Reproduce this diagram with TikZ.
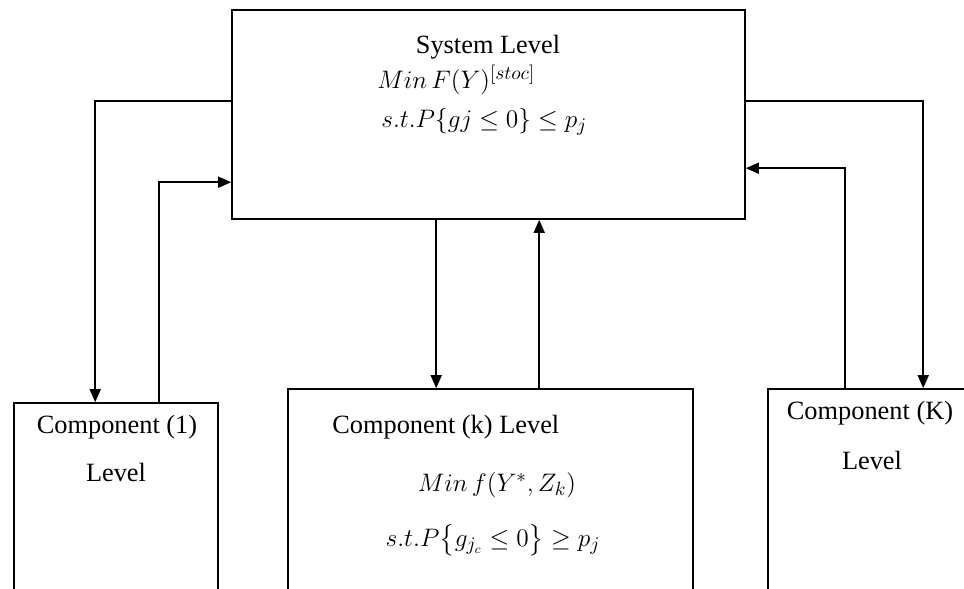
\documentclass[tikz,border=0pt]{standalone}
\usepackage{amsmath}
\usepackage{amssymb}
\usepackage{fontspec}
\setmainfont{Liberation Serif}
\usepackage{tikz}
\usetikzlibrary{arrows.meta,positioning,calc}

\begin{document}
\begin{tikzpicture}[
    box/.style={rectangle, draw, line width=0.9pt, fill=white, inner sep=0pt},
    label/.style={inner sep=0pt, font=\fontsize{15}{18}\selectfont},
    arrow/.style={-{Triangle[length=2.6mm,width=2.2mm]}, line width=0.9pt}
]
\clip (0,0) rectangle (19.28,11.78);
\fill[white] (0,0) rectangle (19.28,11.78);

\node[box, minimum width=10.26cm, minimum height=4.18cm] (sys)    at (9.77,9.49) {};
\node[box, minimum width=4.08cm,  minimum height=4cm]    (compone) at (2.32,1.72) {};
\node[box, minimum width=8.1cm,   minimum height=4.2cm]  (compk)  at (9.81,1.9)  {};
\node[box, minimum width=4.24cm,  minimum height=4.2cm]  (compK)  at (17.48,1.9) {};

\node[label] (systitle) at (9.76,10.84) {System Level};
\node[label, anchor=west] (sysobj) at (7.54,10.18) {$Min\,F(Y)^{[stoc]}$};
\node[label, anchor=west] (syscon) at (7.62,9.34)  {$s.t.P\{gj\leq 0\}\leq p_j$};

\node[label] (onetitle) at (2.34,3.24) {Component (1)};
\node[label] (onelevel) at (2.32,2.34) {Level};

\node[label, anchor=west] (ktitle) at (6.64,3.24) {Component (k) Level};
\node[label] (kobj) at (9.94,2.08) {$Min\,f(Y^{*},Z_k)$};
\node[label] (kcon) at (9.86,0.98) {$s.t.P\big\{g_{j_c}\leq 0\big\}\geq p_j$};

\node[label] (Ktitle) at (17.4,3.52)  {Component (K)};
\node[label] (Klevel) at (17.44,2.58) {Level};

\draw[arrow] ([yshift=-1.84cm]sys.north west) -| ([xshift=1.64cm]compone.north west);
\draw[arrow] ([xshift=2.92cm]compone.north west) |- ([yshift=-3.46cm]sys.north west);
\draw[arrow] ([xshift=4.1cm]sys.south west) -- ([xshift=4.1cm]sys.south west |- compk.north);
\draw[arrow] ([xshift=6.16cm]sys.south west |- compk.north) -- ([xshift=6.16cm]sys.south west);
\draw[arrow] ([yshift=-1.84cm]sys.north east) -| ([xshift=3.12cm]compK.north west);
\draw[arrow] ([xshift=1.56cm]compK.north west) |- ([yshift=-3.18cm]sys.north east);
\end{tikzpicture}
\end{document}
